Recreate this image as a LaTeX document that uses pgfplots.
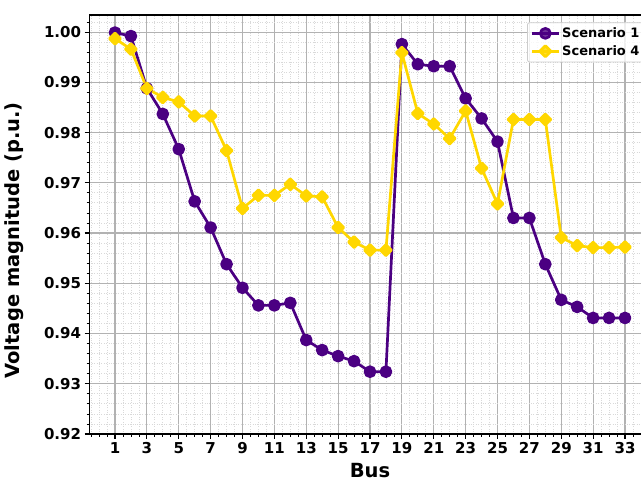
\documentclass[border=0pt]{standalone}
\usepackage{fontspec}
\setmainfont{DejaVu Sans}
\usepackage{pgfplots}
\pgfplotsset{compat=1.18}
\definecolor{sc1}{HTML}{4B0082}
\definecolor{sc4}{HTML}{FFD700}
\begin{document}
\begin{tikzpicture}
\begin{axis}[
  at={(0,0)}, anchor=south west,
  scale only axis, width=561pt, height=419pt,
  xmin=-0.6, xmax=34.6, ymin=0.92, ymax=1.0034,
  xtick={1,3,...,33},
  minor xtick={-0.5,0,...,34.5},
  ytick={0.92,0.93,0.94,0.95,0.96,0.97,0.98,0.99,1.00},
  minor ytick={0.922,0.924,...,1.003},
  yticklabel style={/pgf/number format/.cd, fixed, fixed zerofill, precision=2},
  /pgf/number format/assume math mode=true,
  grid=both,
  major grid style={color=black!30, line width=1.1pt},
  minor grid style={color=black!15, dotted, line width=0.8pt},
  tick align=outside, tick pos=left,
  major tick length=4.9pt, minor tick length=2.8pt,
  major tick style={black, line width=1.1pt},
  minor tick style={black, line width=0.8pt},
  axis line style={black, line width=1.1pt},
  ticklabel style={font=\fontsize{15}{15}\bfseries\selectfont},
  xlabel={Bus}, ylabel={Voltage magnitude (p.u.)},
  label style={font=\fontsize{19.5}{19.5}\bfseries\selectfont},
  xlabel style={at={(axis description cs:0.5,-0.1050)}, anchor=base, inner sep=0pt},
  ylabel style={at={(axis description cs:-0.1524,0.462)}, anchor=north, inner sep=0pt},
  legend style={at={(0.990,0.9826)}, anchor=north east, draw=black!20, line width=0.8pt,
    rounded corners=2pt, fill=white, fill opacity=0.8, text opacity=1,
    font=\fontsize{13}{13}\bfseries\selectfont, row sep=2.5pt, inner xsep=3pt, inner ysep=3pt},
  legend cell align=left,
  legend image code/.code={\draw[mark repeat=2,mark phase=2,#1] plot coordinates {(0pt,0pt) (13.5pt,0pt) (27pt,0pt)};},
]
\addplot[sc1, line width=2.7pt, line join=round, mark=*, mark size=5pt, mark options={solid, fill=sc1}] coordinates {
(1,0.9999) (2,0.9992) (3,0.9888) (4,0.9837) (5,0.9767) (6,0.9663) (7,0.9611) (8,0.9538)
(9,0.9491) (10,0.9456) (11,0.9456) (12,0.9461) (13,0.9387) (14,0.9367) (15,0.9355) (16,0.9345)
(17,0.9324) (18,0.9324) (19,0.9976) (20,0.9936) (21,0.9932) (22,0.9932) (23,0.9868) (24,0.9828)
(25,0.9782) (26,0.9630) (27,0.9630) (28,0.9538) (29,0.9467) (30,0.9453) (31,0.9431) (32,0.9431) (33,0.9431)
};
\addlegendentry{Scenario 1}
\addplot[sc4, line width=2.7pt, line join=round, mark=square*, mark size=3.9pt, mark options={solid, fill=sc4, rotate=45}] coordinates {
(1,0.9987) (2,0.9966) (3,0.9888) (4,0.9870) (5,0.9861) (6,0.9833) (7,0.9833) (8,0.9764)
(9,0.9649) (10,0.9675) (11,0.9675) (12,0.9697) (13,0.9674) (14,0.9672) (15,0.9611) (16,0.9582)
(17,0.9566) (18,0.9566) (19,0.9959) (20,0.9838) (21,0.9817) (22,0.9788) (23,0.9843) (24,0.9729)
(25,0.9658) (26,0.9826) (27,0.9826) (28,0.9826) (29,0.9591) (30,0.9575) (31,0.9571) (32,0.9571) (33,0.9572)
};
\addlegendentry{Scenario 4}
\end{axis}
\pgfresetboundingbox
\path[use as bounding box] (-89.5pt,-48pt) rectangle (551.5pt,434pt);
\end{tikzpicture}
\end{document}
